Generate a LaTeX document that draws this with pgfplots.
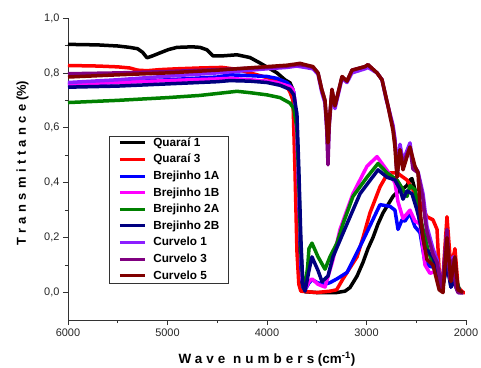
\documentclass[border=0pt]{standalone}
\usepackage{fontspec}
\setmainfont{Liberation Sans}
\newfontfamily\lsfont[LetterSpace=34]{Liberation Sans}
\newfontfamily\lsfontx[LetterSpace=30]{Liberation Sans}
\usepackage{pgfplots}
\pgfplotsset{compat=1.18}
\definecolor{cviolet}{RGB}{140,30,255}
\definecolor{cpurple}{RGB}{128,0,128}
\definecolor{cmaroon}{RGB}{128,0,0}
\definecolor{cgreen}{RGB}{0,128,0}
\definecolor{cnavy}{RGB}{0,0,128}
\definecolor{cmag}{RGB}{255,0,255}
\begin{document}
\begin{tikzpicture}
\path[use as bounding box] (-68bp,-48bp) rectangle (413bp,320bp);
\begin{axis}[
  at={(0,0)}, anchor=south west,
  scale only axis, width=398bp, height=302bp,
  x dir=reverse, xmin=2000, xmax=6000, ymin=-0.1, ymax=1.0,
  axis x line*=bottom, axis y line*=left,
  axis line style={line width=0.8bp, black!80},
  xtick={2000,3000,4000,5000,6000}, minor xtick={2500,3500,4500,5500},
  ytick={0,0.2,0.4,0.6,0.8,1.0}, minor ytick={0.1,0.3,0.5,0.7,0.9},
  tick align=outside, major tick length=5bp, minor tick length=3bp,
  tick style={line width=0.8bp, black!80},
  /pgf/number format/assume math mode=true,
  ticklabel style={font=\fontsize{11}{13}\selectfont, text=black!85},
  x tick label style={/pgf/number format/.cd, 1000 sep={}},
  y tick label style={/pgf/number format/.cd, use comma, fixed, fixed zerofill, precision=1},
  xlabel={{\lsfontx Wave numbers} (cm\textsuperscript{-1})},
  xlabel style={font=\bfseries\fontsize{13.5}{15}\selectfont, at={(axis description cs:0.5,0)}, anchor=center, yshift=-39.5bp},
  ylabel={{\lsfont Transmittance} (\%)},
  ylabel style={font=\bfseries\fontsize{13}{15}\selectfont, at={(axis description cs:-0.114,0.52)}, anchor=center},
  legend style={at={(axis description cs:0.103,0.609)}, anchor=north west, draw=black!80, line width=0.6bp, fill=white,
    font=\bfseries\fontsize{11.8}{13}\selectfont, inner xsep=9bp, inner ysep=1.5bp, row sep=5.6bp, column sep=7bp,
    cells={anchor=base west}, nodes={inner sep=0bp, text height=8.5bp, text depth=2.5bp},
    column 2/.style={nodes={text width=88bp}}, row 1/.style={nodes={text height=18.5bp}}},
  legend image code/.code={\draw[#1, line width=3bp] (0bp,3.5bp) -- (25bp,3.5bp);},
  every axis plot/.append style={line width=3.5bp, line join=round, no markers},
]
% Quarai 1
\addplot[black] table {
6000 0.904
5700 0.902
5500 0.898
5380 0.893
5300 0.888
5250 0.875
5206 0.855
5150 0.862
5075 0.873
4990 0.885
4905 0.893
4750 0.895
4673 0.893
4603 0.884
4543 0.862
4450 0.862
4302 0.866
4171 0.856
4070 0.836
3970 0.815
3899 0.800
3820 0.775
3769 0.764
3740 0.740
3719 0.550
3699 0.300
3668 0.080
3640 0.010
3618 0.003
3500 0.000
3300 0.000
3216 0.005
3166 0.018
3095 0.060
3035 0.110
2985 0.160
2935 0.200
2884 0.250
2834 0.290
2784 0.320
2734 0.350
2693 0.365
2643 0.375
2593 0.390
2563 0.410
2543 0.415
2513 0.375
2482 0.300
2462 0.255
2432 0.220
2392 0.200
2362 0.190
2332 0.150
2291 0.073
2241 0.005
2191 0.110
2161 0.060
2141 0.047
2111 0.030
2090 0.010
2060 0.000
2030 0.000
};
\addlegendentry{Quaraí 1}
% Quarai 3
\addplot[red] table {
6000 0.827
5700 0.825
5500 0.822
5380 0.818
5300 0.810
5206 0.808
5075 0.812
4905 0.815
4673 0.818
4450 0.820
4302 0.813
4171 0.800
4070 0.790
3970 0.780
3869 0.770
3800 0.750
3769 0.730
3739 0.700
3719 0.450
3699 0.150
3680 0.030
3660 0.005
3500 0.000
3367 0.005
3300 0.010
3236 0.050
3166 0.090
3095 0.130
3035 0.200
2965 0.290
2864 0.385
2784 0.436
2693 0.436
2593 0.410
2492 0.350
2392 0.276
2332 0.265
2291 0.230
2270 0.080
2241 0.005
2191 0.276
2151 0.084
2111 0.160
2080 0.020
2030 0.000
2010 0.000
};
\addlegendentry{Quaraí 3}
% Brejinho 1A
\addplot[blue] table {
6000 0.757
5500 0.765
5000 0.775
4500 0.785
4372 0.793
4171 0.790
4000 0.787
3900 0.780
3800 0.765
3760 0.750
3730 0.730
3700 0.600
3680 0.350
3660 0.100
3640 0.020
3618 0.010
3578 0.035
3548 0.047
3487 0.035
3417 0.030
3367 0.036
3296 0.050
3196 0.073
3035 0.190
2864 0.320
2764 0.314
2714 0.300
2683 0.230
2643 0.265
2613 0.260
2563 0.290
2513 0.240
2462 0.218
2412 0.110
2362 0.095
2291 0.090
2241 0.010
2191 0.110
2151 0.020
2111 0.050
2060 0.000
};
\addlegendentry{Brejinho 1A}
% Brejinho 1B
\addplot[cmag] table {
6000 0.760
5500 0.765
5000 0.772
4500 0.778
4372 0.780
4171 0.775
4000 0.770
3900 0.765
3769 0.750
3739 0.740
3719 0.700
3699 0.550
3670 0.250
3648 0.050
3618 0.010
3578 0.040
3548 0.050
3487 0.030
3417 0.020
3337 0.120
3266 0.230
3136 0.360
2995 0.460
2894 0.495
2844 0.470
2784 0.440
2714 0.400
2683 0.330
2633 0.270
2563 0.300
2513 0.260
2462 0.250
2412 0.100
2362 0.070
2291 0.080
2241 0.010
2191 0.120
2151 0.030
2111 0.060
2060 0.000
};
\addlegendentry{Brejinho 1B}
% Brejinho 2A
\addplot[cgreen] table {
6000 0.692
5500 0.700
5000 0.710
4673 0.718
4500 0.725
4302 0.733
4171 0.728
4000 0.720
3869 0.710
3769 0.690
3730 0.670
3700 0.600
3680 0.400
3660 0.150
3635 0.020
3618 0.010
3590 0.100
3578 0.160
3548 0.180
3487 0.130
3417 0.085
3367 0.130
3297 0.180
3236 0.250
3136 0.350
2995 0.420
2884 0.470
2794 0.436
2693 0.410
2633 0.375
2593 0.350
2563 0.390
2513 0.375
2482 0.310
2432 0.230
2382 0.156
2332 0.100
2291 0.060
2241 0.010
2191 0.120
2151 0.030
2111 0.070
2060 0.000
};
\addlegendentry{Brejinho 2A}
% Brejinho 2B
\addplot[cnavy] table {
6000 0.748
5500 0.752
5000 0.760
4500 0.768
4372 0.772
4171 0.770
4000 0.765
3869 0.755
3769 0.740
3730 0.720
3699 0.650
3680 0.450
3660 0.200
3640 0.030
3618 0.005
3578 0.080
3548 0.130
3487 0.080
3447 0.040
3387 0.060
3337 0.130
3196 0.250
3065 0.360
2884 0.447
2794 0.420
2714 0.410
2663 0.375
2633 0.340
2593 0.370
2543 0.360
2492 0.300
2462 0.255
2412 0.160
2382 0.150
2332 0.130
2291 0.080
2241 0.010
2191 0.100
2151 0.020
2111 0.050
2060 0.000
};
\addlegendentry{Brejinho 2B}
% Curvelo 1
\addplot[cviolet] table {
6000 0.765
5500 0.775
5000 0.788
4500 0.800
4000 0.815
3800 0.820
3700 0.825
3618 0.820
3538 0.815
3487 0.795
3450 0.730
3417 0.690
3400 0.600
3387 0.500
3375 0.620
3347 0.730
3317 0.670
3246 0.780
3196 0.765
3146 0.800
3015 0.815
2985 0.820
2894 0.800
2844 0.775
2800 0.700
2784 0.680
2734 0.610
2714 0.560
2693 0.440
2663 0.540
2633 0.480
2563 0.545
2533 0.470
2482 0.440
2432 0.360
2412 0.300
2392 0.240
2362 0.200
2332 0.160
2291 0.120
2241 0.010
2191 0.220
2161 0.050
2130 0.130
2100 0.020
2080 0.000
2030 0.000
};
\addlegendentry{Curvelo 1}
% Curvelo 3
\addplot[cpurple] table {
6000 0.797
5500 0.800
5000 0.805
4500 0.812
4000 0.820
3800 0.825
3700 0.830
3618 0.828
3538 0.820
3487 0.800
3450 0.740
3417 0.700
3400 0.600
3387 0.465
3375 0.600
3347 0.740
3317 0.680
3246 0.785
3196 0.770
3146 0.810
3015 0.823
2985 0.830
2894 0.800
2844 0.775
2784 0.680
2734 0.600
2714 0.550
2693 0.420
2663 0.520
2633 0.470
2563 0.530
2533 0.450
2482 0.436
2432 0.340
2412 0.270
2392 0.220
2362 0.180
2332 0.140
2291 0.110
2241 0.010
2191 0.230
2161 0.047
2130 0.120
2100 0.020
2080 0.000
2030 0.000
};
\addlegendentry{Curvelo 3}
% Curvelo 5
\addplot[cmaroon] table {
6000 0.785
5500 0.793
5000 0.800
4500 0.810
4000 0.823
3800 0.828
3700 0.833
3668 0.835
3618 0.830
3538 0.823
3487 0.800
3450 0.740
3417 0.700
3400 0.620
3387 0.545
3375 0.620
3347 0.740
3317 0.680
3246 0.787
3196 0.770
3146 0.810
3015 0.823
2985 0.830
2894 0.800
2844 0.775
2784 0.680
2734 0.590
2714 0.530
2693 0.420
2663 0.520
2633 0.447
2563 0.530
2513 0.460
2482 0.436
2462 0.300
2432 0.200
2392 0.120
2332 0.100
2270 0.010
2231 0.000
2191 0.200
2151 0.040
2111 0.130
2080 0.010
2030 0.000
};
\addlegendentry{Curvelo 5}
\end{axis}
\end{tikzpicture}
\end{document}
